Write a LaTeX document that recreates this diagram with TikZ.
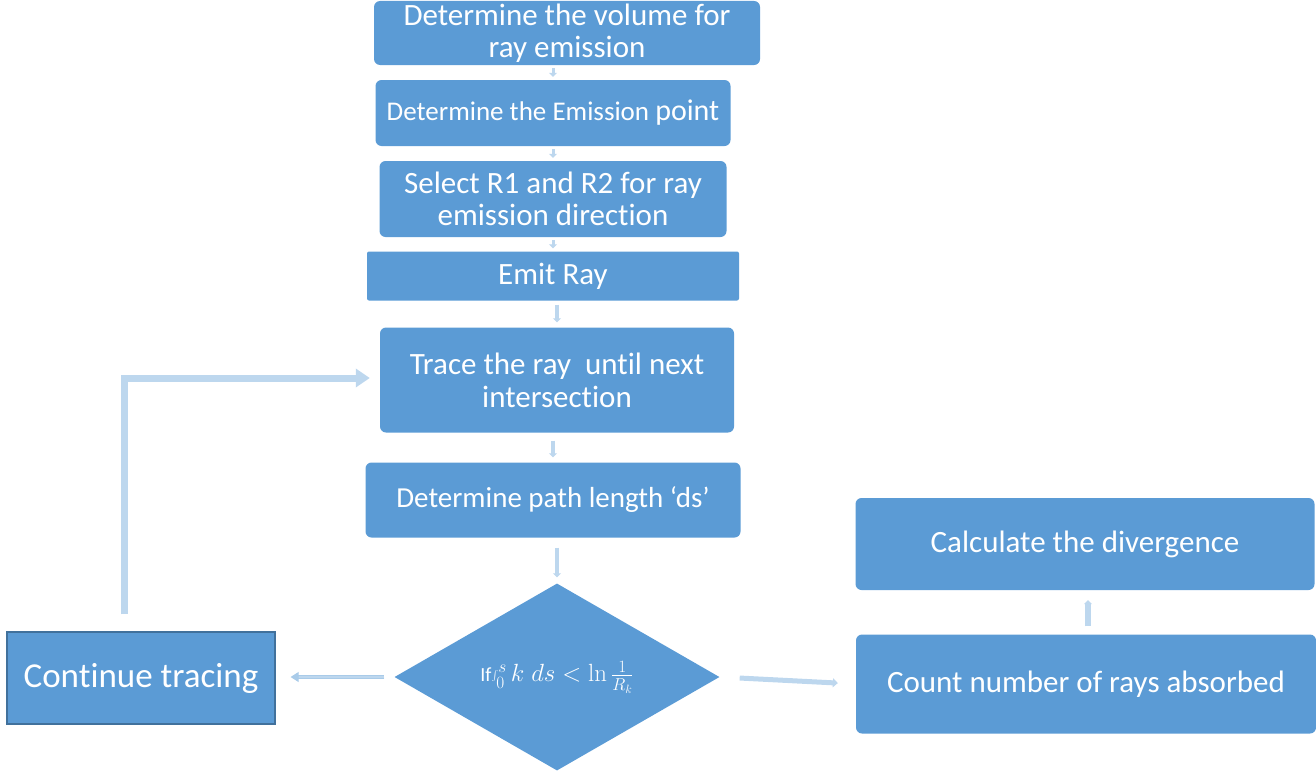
\documentclass[tikz,border=0pt]{standalone}
\usepackage[no-math]{fontspec}
\setmainfont{Carlito}[Ligatures=NoCommon]
\usetikzlibrary{shapes.geometric,arrows.meta}
\definecolor{boxblue}{HTML}{5B9BD5}
\definecolor{arrowblue}{HTML}{BDD7EE}
\definecolor{edgeblue}{HTML}{41719C}

\begin{document}
\begin{tikzpicture}[x=1pt,y=-1pt]
		\tikzstyle{every node}+=[inner sep=0pt, text=white, align=center]
		\tikzstyle{box}=[fill=boxblue, rounded corners=6pt]
		\tikzstyle{flow}=[draw=arrowblue, line width=4pt, -{Triangle[width=8pt,length=4pt]}]
		\tikzstyle{backflow}=[draw=arrowblue, line width=7pt, -{Triangle[width=18pt,length=14pt]}]
		\useasboundingbox (0,0) rectangle (1316,776);
		% main column
		\node [box, minimum width=386pt, minimum height=64pt, font=\fontsize{31}{32}\selectfont] (volume) at (567,33) {Determine the volume for\\ray emission};
		\node [box, minimum width=355pt, minimum height=66pt, font=\fontsize{27}{30}\selectfont] (emission) at (553,113) {Determine the Emission {\fontsize{30}{30}\selectfont point}};
		\node [box, minimum width=347pt, minimum height=76pt, font=\fontsize{31}{32}\selectfont] (select) at (553,199) {Select R1 and R2 for ray\\emission direction};
		\node [box, rounded corners=2pt, minimum width=372pt, minimum height=49pt, font=\fontsize{31}{32}\selectfont] (emit) at (553,276) {Emit Ray};
		\node [box, minimum width=354pt, minimum height=105pt, font=\fontsize{31}{33}\selectfont] (trace) at (557,380) {Trace the ray\ \ until next\\intersection};
		\node [box, minimum width=375pt, minimum height=75pt, font=\fontsize{29}{32}\selectfont] (pathlen) at (553,500) {Determine path length `ds'};
		\node [diamond, fill=boxblue, aspect=1.74, minimum width=325pt, minimum height=187pt, font=\fontsize{23}{26}\selectfont] (test) at (557,677) {{\fontsize{20}{24}\selectfont If}$\int_0^s k\;ds < \ln\frac{1}{R_k}$};
		% side boxes
		\node [fill=boxblue, draw=edgeblue, line width=1.2pt, minimum width=268pt, minimum height=92pt, font=\fontsize{35}{36}\selectfont] (cont) at (141,678) {Continue tracing};
		\node [box, minimum width=460pt, minimum height=99pt, font=\fontsize{31}{32}\selectfont] (count) at (1086,684) {Count number of rays absorbed};
		\node [box, minimum width=459pt, minimum height=92pt, font=\fontsize{31}{32}\selectfont] (calc) at (1085,544) {Calculate the divergence};
		\coordinate (bend) at (124,378);
		% connectors
		\draw [flow, line width=3pt, shorten <=3pt, shorten >=3pt] (volume.south -| emission.north) -- (emission.north);
		\draw [flow, line width=3pt, shorten <=3pt, shorten >=3pt] (emission.south) -- (select.north);
		\draw [flow, line width=3pt, shorten <=3pt, shorten >=3pt] (select.south) -- (emit.north);
		\draw [flow, shorten <=4pt, shorten >=5pt] (emit.south -| trace.north) -- (trace.north);
		\draw [flow, shorten <=8pt, shorten >=5pt] (trace.south -| pathlen.north) -- (pathlen.north);
		\draw [flow, shorten <=10pt, shorten >=6pt] (pathlen.south -| test.north) -- (test.north);
		\draw [draw=arrowblue!80!boxblue, line width=1pt, double=arrowblue, double distance=2.5pt, -{Triangle[width=10pt,length=8pt]}, shorten <=10pt, shorten >=15pt] (test.west) -- (test.west -| cont.east);
		\draw [flow, line width=5pt, -{Triangle[width=9pt,length=5pt]}, shorten <=20pt, shorten >=18pt] (test.east) -- (count.west);
		\draw [flow, line width=6pt, shorten <=8pt, shorten >=10pt] (count.north -| 1088,0) -- (calc.south -| 1088,0);
		\draw [backflow, shorten <=17pt, shorten >=10pt] (cont.north -| bend) |- (trace.west |- bend);
\end{tikzpicture}
\end{document}
